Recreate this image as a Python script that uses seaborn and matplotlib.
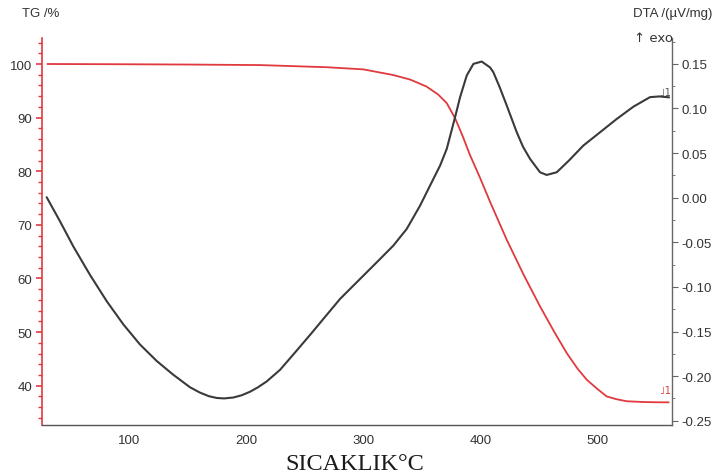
import numpy as np
import pandas as pd
import matplotlib
matplotlib.use("Agg")
import matplotlib.pyplot as plt
import seaborn as sns
from matplotlib.ticker import MultipleLocator

# ---- data ----
tg_temp = [30, 100, 150, 211.7, 268.7, 300, 325.4, 340, 354, 364, 371.3, 378.4,
           385, 391.2, 399.7, 408.3, 422.6, 437, 451, 463, 473.8, 483, 491, 500, 508,
           516, 525, 540, 553.6, 561]
tg_val = [100.0, 99.95, 99.9, 99.8, 99.4, 99.0, 97.95, 97.1, 95.8, 94.3, 92.7, 89.9,
          86.5, 83.0, 78.8, 74.3, 67.2, 60.7, 54.8, 50.1, 46.1, 43.2, 41.1, 39.4, 38.0,
          37.5, 37.1, 36.95, 36.9, 36.9]

dta_temp = [29.4, 40.8, 52.1, 66.4, 80.7, 94.9, 109.1, 123.4, 137.6, 151.9, 160.4,
            168, 174.7, 181, 188.9, 196, 203.2, 210, 217.4, 228.8, 242, 255, 268,
            280.1, 297.2, 311.5, 325.6, 337.1, 348.5, 357.0, 365.6, 371.3, 378.4,
            382.7, 388.4, 394.1, 401.2, 408.3, 411.1, 416.5, 422.6, 431.1, 436.5,
            442.5, 451, 456.7, 465.3, 476, 488, 502, 516.6, 530.8, 545, 553, 561.3]
dta_val = [0.0005, -0.0265, -0.0545, -0.0865, -0.1160, -0.1420, -0.1645, -0.1830,
           -0.1985, -0.2125, -0.2185, -0.2225, -0.2245, -0.2250, -0.2240, -0.2215,
           -0.2175, -0.2125, -0.2060, -0.1930, -0.1730, -0.1530, -0.1325, -0.1135,
           -0.0911, -0.0724, -0.0538, -0.035, -0.0089, 0.0135, 0.036, 0.0547, 0.0902,
           0.1127, 0.137, 0.150, 0.1526, 0.146, 0.1407, 0.124, 0.1032, 0.0734, 0.057,
           0.0435, 0.0285, 0.0255, 0.0285, 0.042, 0.0584, 0.073, 0.0883, 0.102,
           0.1127, 0.1135, 0.1125]

x_ticks = [100, 200, 300, 400, 500]
tg_ticks = [40, 50, 60, 70, 80, 90, 100]
dta_ticks = [-0.25, -0.20, -0.15, -0.10, -0.05, 0.00, 0.05, 0.10, 0.15]

tg_df = pd.DataFrame({"T": tg_temp, "TG": tg_val})
dta_df = pd.DataFrame({"T": dta_temp, "DTA": dta_val})

sns.set_style("white")
plt.rcParams["font.family"] = ["Liberation Sans", "DejaVu Sans"]

RED = "#e0393e"
DARK = "#3a3a3a"
TXT = "#333333"

fig = plt.figure(figsize=(7.19, 4.77), dpi=100)
ax = fig.add_axes([42 / 719, 1 - 426 / 477, 630 / 719, 387 / 477])
ax2 = ax.twinx()

sns.lineplot(data=tg_df, x="T", y="TG", ax=ax, color=RED, linewidth=1.3)
sns.lineplot(data=dta_df, x="T", y="DTA", ax=ax2, color=DARK, linewidth=1.5)
for a in (ax, ax2):
    for ln in a.get_lines():
        ln.set_solid_joinstyle("round")

ax.set_xlim(25.4, 563.8)
ax.set_ylim(32.67, 104.85)
ax2.set_ylim(-0.2548, 0.179)

ax.set_xticks(x_ticks)
ax.set_yticks(tg_ticks)
ax2.set_yticks(dta_ticks)
ax.set_xticklabels([str(v) for v in x_ticks])
ax.set_yticklabels([str(v) for v in tg_ticks])
ax2.set_yticklabels([f"{v:.2f}" for v in dta_ticks])
ax.xaxis.set_minor_locator(MultipleLocator(20))
ax.yaxis.set_minor_locator(MultipleLocator(2))
ax2.yaxis.set_minor_locator(MultipleLocator(0.025))

for a in (ax, ax2):
    a.set_xlabel("")
    a.set_ylabel("")
    a.spines["top"].set_visible(False)

ax.spines["left"].set_color(RED)
ax.spines["left"].set_linewidth(1.2)
ax.spines["bottom"].set_color("#555555")
ax.spines["bottom"].set_linewidth(1.0)
ax.spines["right"].set_visible(False)
ax2.spines["left"].set_visible(False)
ax2.spines["bottom"].set_visible(False)
ax2.spines["right"].set_color("#666666")
ax2.spines["right"].set_linewidth(1.0)

ax.tick_params(axis="y", which="both", direction="out", colors=RED,
               labelcolor=TXT, labelsize=9.5, pad=3)
ax.tick_params(axis="y", which="major", length=4, width=1.2)
ax.tick_params(axis="y", which="minor", length=3, width=1.0)
ax.tick_params(axis="x", which="both", direction="inout", colors="#555555",
               labelcolor=TXT, labelsize=9.5, pad=4)
ax.tick_params(axis="x", which="major", length=5)
ax.tick_params(axis="x", which="minor", length=3)
ax2.tick_params(axis="y", which="both", direction="out", colors="#666666",
                labelcolor=TXT, labelsize=9.5, pad=3)
ax2.tick_params(axis="y", which="major", length=4)
ax2.tick_params(axis="y", which="minor", length=2.5)

# segment markers at curve ends
ax.text(553.5, 38.6, "\u02e91", color=RED, fontsize=7, family=["DejaVu Sans"])
ax2.text(553.5, 0.1155, "\u02e91", color="#555555", fontsize=7, family=["DejaVu Sans"])

fig.text(22 / 719, 1 - 14 / 477, "TG /%", fontsize=9.5, color=TXT, va="center", ha="left")
fig.text(633 / 719, 1 - 14 / 477, "DTA /(\u00b5V/mg)", fontsize=9.5, color=TXT,
         va="center", ha="left")
fig.text(634 / 719, 1 - 39 / 477, "\u2191 exo", fontsize=9.5, color=TXT,
         va="center", ha="left", family=["DejaVu Sans"])
fig.text(355 / 719, 1 - 465 / 477, "SICAKLIK\u00b0C", fontsize=17.5, color="#1a1a1a",
         va="center", ha="center", family=["Liberation Serif", "DejaVu Serif"])

fig.savefig("out.png", dpi=100)
